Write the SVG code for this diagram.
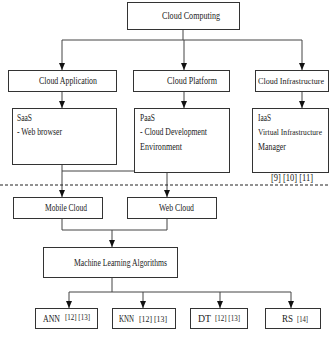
<svg xmlns="http://www.w3.org/2000/svg" width="329" height="340" viewBox="0 0 329 340">
<style>
.box{fill:#fff;stroke:#333;stroke-width:1}
.t{font-family:"Liberation Serif","Times New Roman",serif;font-size:10px;fill:#222}
.n{font-family:"Liberation Serif","Times New Roman",serif;font-size:8px;fill:#222}
.s{font-family:"Liberation Serif","Times New Roman",serif;font-size:7.5px;fill:#222}
.c{fill:none;stroke:#444;stroke-width:1}
</style>
<defs>
<marker id="ah" markerWidth="7" markerHeight="6" refX="7" refY="3" orient="auto" markerUnits="userSpaceOnUse" viewBox="0 0 7 6">
<path d="M0,0 L7,3 L0,6 Z" fill="#111"/>
</marker>
</defs>
<rect width="329" height="340" fill="#fff"/>
<g id="connectors">
<path class="c" d="M183,30 V40 M62,40 H302"/>
<line class="c" x1="62" y1="40" x2="62" y2="70" marker-end="url(#ah)"/>
<line class="c" x1="184" y1="40" x2="184" y2="70" marker-end="url(#ah)"/>
<line class="c" x1="302" y1="40" x2="302" y2="70" marker-end="url(#ah)"/>
<line class="c" x1="62" y1="92" x2="62" y2="108" marker-end="url(#ah)"/>
<line class="c" x1="184" y1="92" x2="184" y2="108" marker-end="url(#ah)"/>
<line class="c" x1="302" y1="92" x2="302" y2="108" marker-end="url(#ah)"/>
<line class="c" x1="62" y1="165" x2="62" y2="197" marker-end="url(#ah)"/>
<path class="c" d="M62,171 H167 V197" marker-end="url(#ah)"/>
<path class="c" d="M62,219 V230 H167 V219"/>
<line class="c" x1="112" y1="230" x2="112" y2="247" marker-end="url(#ah)"/>
<path class="c" d="M112,278 V292 M69,292 H291"/>
<line class="c" x1="69" y1="292" x2="69" y2="308" marker-end="url(#ah)"/>
<line class="c" x1="143" y1="292" x2="143" y2="308" marker-end="url(#ah)"/>
<line class="c" x1="220" y1="292" x2="220" y2="308" marker-end="url(#ah)"/>
<line class="c" x1="291" y1="292" x2="291" y2="308" marker-end="url(#ah)"/>
<line x1="0" y1="185" x2="329" y2="185" stroke="#222" stroke-width="1" stroke-dasharray="3,2"/>
</g>
<g id="cloud-computing">
<rect class="box" x="127.5" y="2.5" width="112" height="27"/>
<text class="t" x="162" y="19" textLength="58" lengthAdjust="spacingAndGlyphs">Cloud Computing</text>
</g>
<g id="cloud-application">
<rect class="box" x="8.5" y="70.5" width="108" height="21"/>
<text class="t" x="39" y="84" textLength="58" lengthAdjust="spacingAndGlyphs">Cloud Application</text>
</g>
<g id="cloud-platform">
<rect class="box" x="133.5" y="70.5" width="96" height="21"/>
<text class="t" x="167" y="84" textLength="50" lengthAdjust="spacingAndGlyphs">Cloud Platform</text>
</g>
<g id="cloud-infrastructure">
<rect class="box" x="255.5" y="70.5" width="73" height="21"/>
<text class="n" x="258" y="84" textLength="66" lengthAdjust="spacingAndGlyphs">Cloud Infrastructure</text>
</g>
<g id="saas">
<rect class="box" x="12.5" y="108.5" width="104" height="56"/>
<text class="t" x="17" y="121" textLength="15" lengthAdjust="spacingAndGlyphs">SaaS</text>
<text class="t" x="17" y="135" textLength="45" lengthAdjust="spacingAndGlyphs">- Web browser</text>
</g>
<g id="paas">
<rect class="box" x="134.5" y="108.5" width="95" height="64"/>
<text class="t" x="140" y="121" textLength="15" lengthAdjust="spacingAndGlyphs">PaaS</text>
<text class="t" x="140" y="135" textLength="67" lengthAdjust="spacingAndGlyphs">- Cloud Development</text>
<text class="t" x="140" y="150" textLength="42" lengthAdjust="spacingAndGlyphs">Environment</text>
</g>
<g id="iaas">
<rect class="box" x="252.5" y="108.5" width="76" height="64"/>
<text class="t" x="258" y="121" textLength="13" lengthAdjust="spacingAndGlyphs">IaaS</text>
<text class="n" x="258" y="135" textLength="64" lengthAdjust="spacingAndGlyphs">Virtual Infrastructure</text>
<text class="t" x="258" y="150" textLength="28" lengthAdjust="spacingAndGlyphs">Manager</text>
<text class="t" x="271" y="181" textLength="42" lengthAdjust="spacingAndGlyphs">[9] [10] [11]</text>
</g>
<g id="mobile-cloud">
<rect class="box" x="13.5" y="197.5" width="89" height="21"/>
<text class="t" x="45" y="211" textLength="42" lengthAdjust="spacingAndGlyphs">Mobile Cloud</text>
</g>
<g id="web-cloud">
<rect class="box" x="127.5" y="197.5" width="89" height="21"/>
<text class="t" x="159" y="211" textLength="35" lengthAdjust="spacingAndGlyphs">Web Cloud</text>
</g>
<g id="ml">
<rect class="box" x="43.5" y="247.5" width="134" height="30"/>
<text class="t" x="74" y="266" textLength="93" lengthAdjust="spacingAndGlyphs">Machine Learning Algorithms</text>
</g>
<g id="ann">
<rect class="box" x="35.5" y="308.5" width="62" height="20"/>
<text class="t" x="43" y="322" textLength="17" lengthAdjust="spacingAndGlyphs">ANN</text>
<text class="s" x="65" y="320" textLength="25" lengthAdjust="spacingAndGlyphs">[12] [13]</text>
</g>
<g id="knn">
<rect class="box" x="112.5" y="308.5" width="63" height="20"/>
<text class="t" x="119" y="322" textLength="15" lengthAdjust="spacingAndGlyphs">KNN</text>
<text class="s" x="139" y="322" textLength="28" lengthAdjust="spacingAndGlyphs">[12] [13]</text>
</g>
<g id="dt">
<rect class="box" x="190.5" y="308.5" width="57" height="20"/>
<text class="t" x="198" y="322" textLength="13" lengthAdjust="spacingAndGlyphs">DT</text>
<text class="s" x="215" y="321" textLength="25" lengthAdjust="spacingAndGlyphs">[12] [13]</text>
</g>
<g id="rs">
<rect class="box" x="265.5" y="308.5" width="55" height="20"/>
<text class="t" x="282" y="322" textLength="11" lengthAdjust="spacingAndGlyphs">RS</text>
<text class="s" x="297" y="322" textLength="11" lengthAdjust="spacingAndGlyphs">[14]</text>
</g>
</svg>
